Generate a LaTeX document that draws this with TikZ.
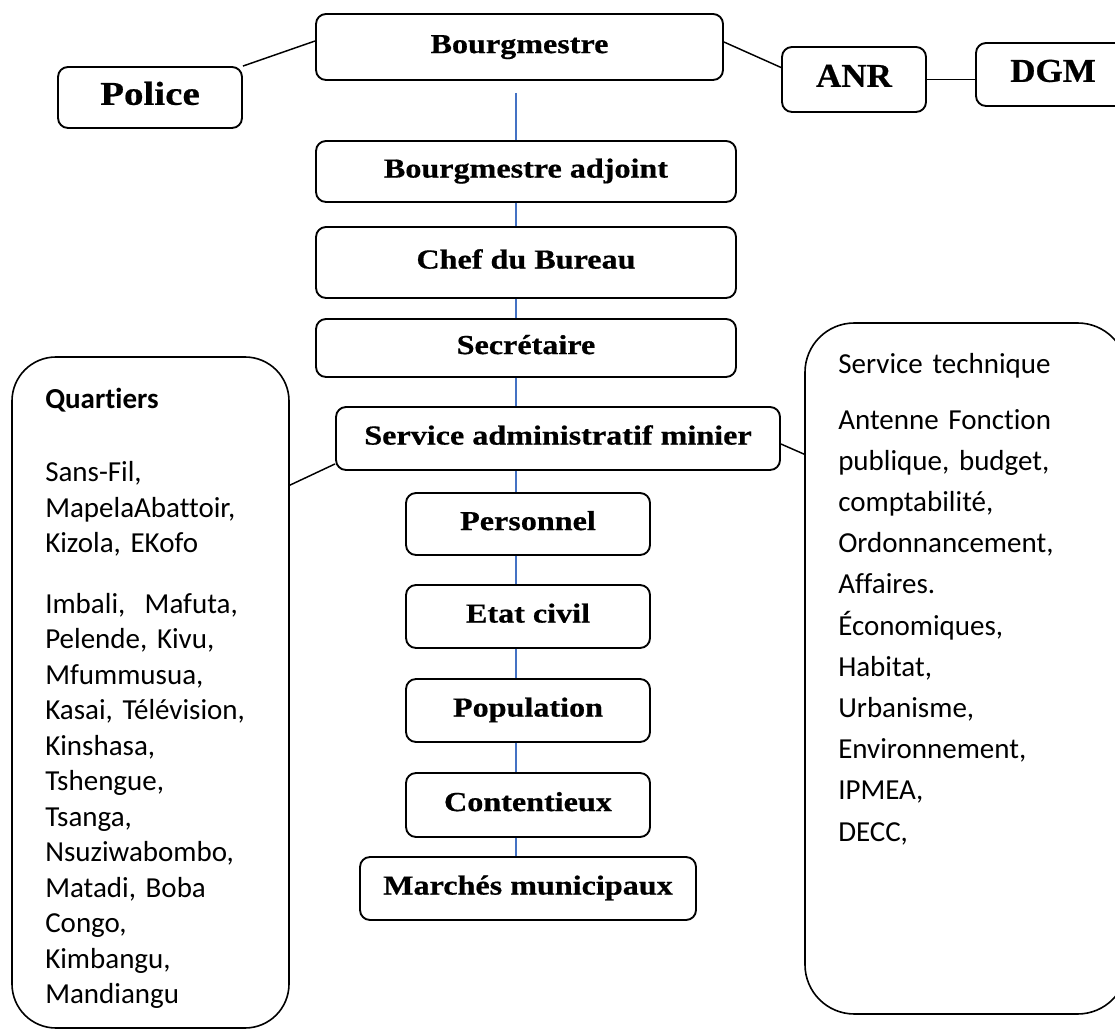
\documentclass[tikz,border=0pt]{standalone}
\usepackage{fontspec}
\setmainfont{Liberation Serif}
\newfontfamily\georg{Liberation Serif}[FakeStretch=1.17,FakeBold=0.6]
\newfontfamily\georgcaps{Liberation Serif}[FakeStretch=1.05,FakeBold=0.6]
\newfontfamily\carlito{Carlito}[Ligatures={NoCommon}]
\usetikzlibrary{calc}
\definecolor{spineblue}{RGB}{68,114,196}
\frenchspacing
\begin{document}
\begin{tikzpicture}[x=0.75pt,y=-0.75pt,
  box/.style={draw, line width=1.4pt, rounded corners=7.5pt, inner sep=0pt,
    font=\georg\bfseries\fontsize{20.6}{24}\selectfont, text height=13.6pt, text depth=4.5pt},
  bigbox/.style={box, font=\georg\bfseries\fontsize{25}{29}\selectfont, text height=16.5pt, text depth=5.5pt},
  capbox/.style={box, font=\georgcaps\bfseries\fontsize{25}{29}\selectfont, text height=16.5pt, text depth=5.5pt},
  sidebox/.style={draw, line width=1.2pt, inner sep=0pt},
  sidetext/.style={anchor=base west, inner sep=0pt, align=left, text width=260pt},
  conn/.style={draw, line width=1.1pt},
  spine/.style={draw=spineblue, line width=1.1pt}]
\path[use as bounding box] (0,0) rectangle (1115,1030);
\fill[white] (0,0) rectangle (1115,1030);
\clip (0,0) rectangle (1115,1030);

% top row
\node[box, minimum width=305.25pt, minimum height=49.5pt] (bm) at (519.5,47) {Bourgmestre};
\node[bigbox, minimum width=138pt, minimum height=45.75pt] (police) at (150,97.5) {Police};
\node[capbox, minimum width=108pt, minimum height=48.75pt] (anr) at (854,79.5) {ANR};
\node[capbox, minimum width=115.5pt, minimum height=47.25pt] (dgm) at (1053,74.5) {DGM};

% central column
\node[box, minimum width=315pt, minimum height=45.75pt] (adj) at (526,171.5) {Bourgmestre adjoint};
\node[box, minimum width=315pt, minimum height=53.25pt] (chef) at (526,262.5) {Chef du Bureau};
\node[box, minimum width=315pt, minimum height=43.5pt] (sec) at (526,348) {Secrétaire};
\node[box, minimum width=333pt, minimum height=47.25pt] (sam) at (558,438.5) {Service administratif minier};
\node[box, minimum width=183pt, minimum height=46.5pt] (pers) at (528,524) {Personnel};
\node[box, minimum width=183pt, minimum height=47.25pt] (etat) at (528,616.5) {Etat civil};
\node[box, minimum width=183pt, minimum height=47.25pt] (pop) at (528,710.5) {Population};
\node[box, minimum width=183pt, minimum height=48pt] (cont) at (528,805) {Contentieux};
\node[box, minimum width=252pt, minimum height=47.25pt] (marc) at (528,888.5) {Marchés municipaux};

% side boxes
\node[sidebox, rounded corners=33pt, minimum width=207.75pt, minimum height=503.25pt] (quart) at (150.5,692.5) {};
\node[sidebox, rounded corners=37pt, minimum width=241.5pt, minimum height=518.25pt] (tech) at (966,668.5) {};

\node[sidetext, font=\carlito\fontsize{21.75}{26.6}\selectfont] (quarttext) at (45,409) {%
{\bfseries Quartiers}\\[28.1pt]
Sans-Fil,\\
MapelaAbattoir,\\
Kizola, EKofo\\[18.8pt]
Imbali,~~Mafuta,\\
Pelende, Kivu,\\
Mfummusua,\\
Kasai, Télévision,\\
Kinshasa,\\
Tshengue,\\
Tsanga,\\
Nsuziwabombo,\\
Matadi, Boba\\
Congo,\\
Kimbangu,\\
Mandiangu};

\node[sidetext, font=\carlito\fontsize{21.75}{30.9}\selectfont] (techtext) at (838,374) {%
Service technique\\[10.5pt]
Antenne Fonction\\
publique, budget,\\
comptabilité,\\
Ordonnancement,\\
Affaires.\\
Économiques,\\
Habitat,\\
Urbanisme,\\
Environnement,\\
IPMEA,\\
DECC,};

% black connectors
\draw[conn] (police.north east) -- ($(bm.west)+(0,-6)$);
\draw[conn] ($(bm.east)+(0,-5)$) -- ($(anr.west)+(0,-12)$);
\draw[conn] (anr.east) -- (anr.east -| dgm.west);
\draw[conn] ($(sam.south west)+(0,-7)$) -- ($(quart.north east)+(0,129)$);
\draw[conn] ($(sam.east)+(0,5.5)$) -- ($(tech.north west)+(0,132)$);

% blue spine
\coordinate (sp) at (516,93);
\draw[spine] (sp) -- (sp |- adj.north);
\draw[spine] (sp |- adj.south) -- (sp |- chef.north);
\draw[spine] (sp |- chef.south) -- (sp |- sec.north);
\draw[spine] (sp |- sec.south) -- (sp |- sam.north);
\draw[spine] (sp |- sam.south) -- (sp |- pers.north);
\draw[spine] (sp |- pers.south) -- (sp |- etat.north);
\draw[spine] (sp |- etat.south) -- (sp |- pop.north);
\draw[spine] (sp |- pop.south) -- (sp |- cont.north);
\draw[spine] (sp |- cont.south) -- (sp |- marc.north);
\end{tikzpicture}
\end{document}
